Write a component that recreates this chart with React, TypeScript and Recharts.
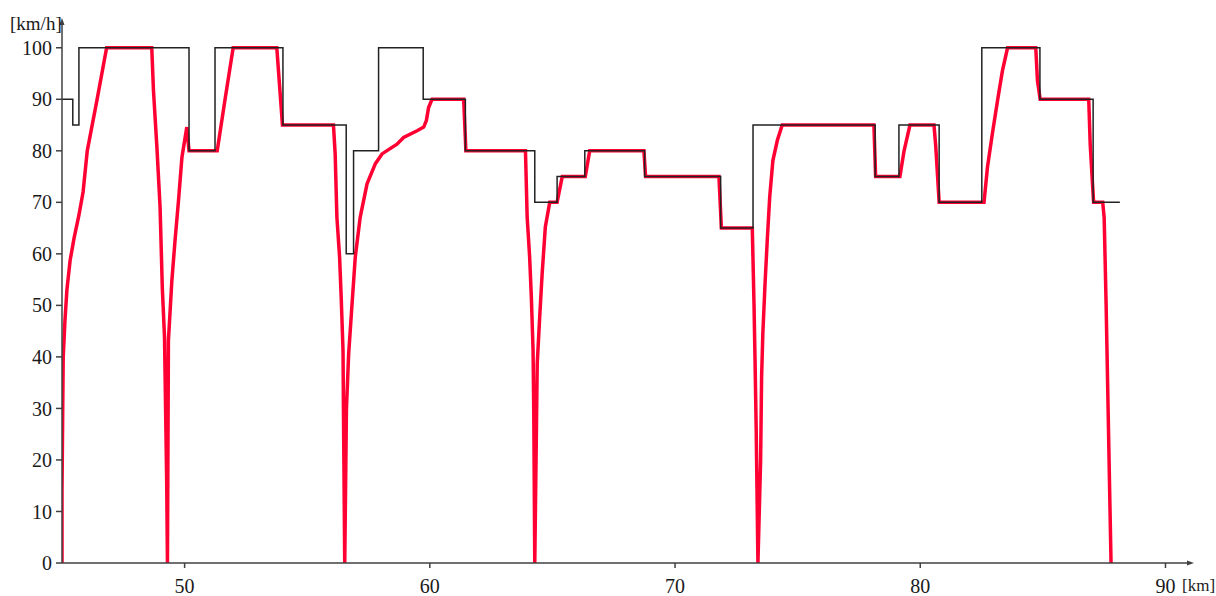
import { LineChart, Line, XAxis, YAxis, Label } from 'recharts'

// speed limit (black step line)
const limitKm = [45, 45.44, 45.69, 50.18, 51.24, 54.01, 56.59, 56.89, 57.91, 59.73, 61.45, 64.28, 65.19, 66.32, 68.76, 71.86, 73.18, 78.16, 79.13, 80.77, 82.51, 84.88, 87.05, 88.14]
const limitSpeed = [90, 85, 100, 80, 100, 85, 60, 80, 100, 90, 80, 70, 75, 80, 75, 65, 85, 75, 85, 70, 100, 90, 70, 70]

// driven speed (red line)
const speedKm = [
  45.0, 45.0, 45.03, 45.05, 45.12, 45.2, 45.33, 45.49, 45.69, 45.86, 46.03, 46.42, 46.82,
  48.66, 48.73, 48.87, 49.0, 49.09, 49.18, 49.27, 49.3, 49.34, 49.48, 49.61, 49.75, 49.89, 50.09, 50.18,
  51.33, 51.65, 51.98, 53.76, 53.99,
  56.07, 56.14, 56.21, 56.32, 56.39, 56.46, 56.48, 56.53, 56.6, 56.69, 56.82, 56.96, 57.16, 57.44, 57.78, 58.05,
  58.66, 58.93, 59.48, 59.75, 59.86, 59.95, 60.09, 61.38, 61.47,
  63.9, 63.97, 64.07, 64.14, 64.21, 64.24, 64.28, 64.38, 64.48, 64.58, 64.71, 64.89, 65.19, 65.4,
  66.34, 66.52, 68.73, 68.8, 71.79, 71.89,
  73.15, 73.18, 73.22, 73.26, 73.31, 73.38, 73.49, 73.53, 73.58, 73.67, 73.76, 73.86, 73.99, 74.17, 74.37,
  78.11, 78.18, 79.17, 79.34, 79.58, 80.56, 80.63, 80.77,
  82.6, 82.74, 82.94, 83.15, 83.35, 83.56, 84.71, 84.78, 84.89,
  86.87, 86.93, 87.0, 87.07, 87.44, 87.5, 87.58, 87.66, 87.74, 87.78,
]
const speedValue = [
  0, 14, 30, 40, 47, 53, 58.7, 63, 67.5, 72, 80, 89.7, 100,
  100, 91.7, 80.7, 69, 53.5, 43.9, 15.5, 0, 43.2, 54.8, 62.6, 70.3, 78.7, 84.6, 80,
  80, 90, 100, 100, 85,
  85, 79.4, 67.1, 59.4, 51, 41.3, 28.4, 0, 30, 40.6, 49.7, 59.4, 67.1, 73.6, 77.5, 79.4,
  81.3, 82.6, 83.9, 84.6, 85.9, 88.4, 90, 90, 80,
  80, 67.1, 59.4, 51.6, 41.3, 28.4, 0, 38.7, 47.7, 56.1, 65.2, 70, 70, 75,
  75, 80, 80, 75, 75, 65,
  65, 58.7, 50.3, 40, 25.8, 0, 20, 36.1, 44.5, 54.2, 62.6, 71, 78.1, 82, 85,
  85, 75, 75, 80, 85, 85, 81, 70,
  70, 76.8, 83.3, 89.7, 95.5, 100, 100, 93.6, 90,
  90, 81.3, 75.5, 70, 70, 67, 50, 30, 10, 0,
]

const xTicks = [50, 60, 70, 80, 90]
const yTicks = [0, 10, 20, 30, 40, 50, 60, 70, 80, 90, 100]

const limitData = limitKm.map((km, i) => ({ km, limit: limitSpeed[i] }))
const speedData = speedKm.map((km, i) => ({ km, speed: speedValue[i] }))

const FONT = '"Liberation Serif", "Times New Roman", serif'
const AXIS = '#404040'
const TEXT = '#1a1a1a'

const renderYLabel = (props: any) => {
  const vb = props.viewBox
  const ax = vb.x + vb.width
  return (
    <g>
      <path d={`M${ax} ${vb.y - 4} L${ax - 2.5} ${vb.y + 3} L${ax + 2.5} ${vb.y + 3} Z`} fill={AXIS} />
      <text x={ax - 52} y={vb.y + 8} fontSize={19} fontFamily={FONT} fill={TEXT}>
        [km/h]
      </text>
    </g>
  )
}

const renderXLabel = (props: any) => {
  const vb = props.viewBox
  const ax = vb.x + vb.width
  return (
    <g>
      <path d={`M${ax + 4} ${vb.y} L${ax - 3} ${vb.y - 2.5} L${ax - 3} ${vb.y + 2.5} Z`} fill={AXIS} />
      <text x={ax - 8} y={vb.y + 28} fontSize={17} fontFamily={FONT} fill={TEXT}>
        [km]
      </text>
    </g>
  )
}

export default function App() {
  return (
    <div style={{ position: 'absolute', left: 0, top: 0, width: 1216, height: 596, background: '#fff' }}>
      <LineChart width={1216} height={596} margin={{ top: 22, right: 26, bottom: 3, left: 12 }}>
        <XAxis
          type="number"
          dataKey="km"
          domain={[45, 91]}
          ticks={xTicks}
          allowDataOverflow
          height={30}
          tickSize={5}
          tickMargin={11}
          axisLine={{ stroke: AXIS, strokeWidth: 1.5 }}
          tickLine={{ stroke: AXIS, strokeWidth: 1.5 }}
          tick={{ fontSize: 20, fontFamily: FONT, fill: TEXT }}
          label={<Label content={renderXLabel} />}
        />
        <YAxis
          type="number"
          domain={[0, 105]}
          ticks={yTicks}
          allowDataOverflow
          width={50}
          tickSize={6}
          tickMargin={4}
          axisLine={{ stroke: AXIS, strokeWidth: 1.5 }}
          tickLine={{ stroke: AXIS, strokeWidth: 1.5 }}
          tick={{ fontSize: 20, fontFamily: FONT, fill: TEXT }}
          label={<Label content={renderYLabel} />}
        />
        <Line
          data={speedData}
          dataKey="speed"
          type="linear"
          stroke="#ff0033"
          strokeWidth={3.5}
          dot={false}
          isAnimationActive={false}
        />
        <Line
          data={limitData}
          dataKey="limit"
          type="stepAfter"
          stroke="#222"
          strokeWidth={1.5}
          dot={false}
          isAnimationActive={false}
        />
      </LineChart>
    </div>
  )
}
